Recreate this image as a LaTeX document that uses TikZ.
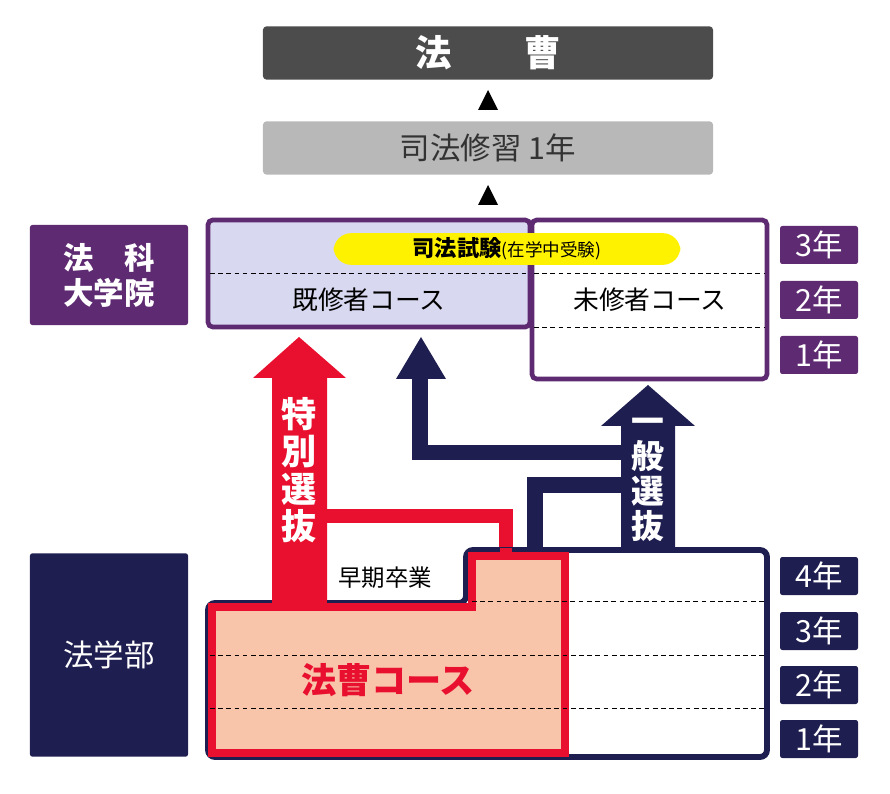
\documentclass[tikz,border=0pt]{standalone}
\usepackage{fontspec}
\setmainfont{Noto Sans CJK JP}
\usepackage{tikz}
\usetikzlibrary{positioning}
\definecolor{navy}{HTML}{1E1E50}
\definecolor{lawpurple}{HTML}{5E2A72}
\definecolor{lawred}{HTML}{E8102E}
\definecolor{salmon}{HTML}{F8C4AA}
\definecolor{lavender}{HTML}{D8D8F0}
\begin{document}
\begin{tikzpicture}[x=0.03cm,y=-0.03cm,
    label box/.style={rounded corners=2pt,text=white,font=\fontsize{26}{28}\selectfont,align=center},
    year/.style={label box,minimum width=2.34cm,minimum height=1.14cm},
    stage/.style={rounded corners=3pt,minimum width=13.5cm,minimum height=1.6cm},
    dashline/.style={dashed,line width=0.8pt,dash pattern=on 4pt off 3pt}
  ]
  \useasboundingbox (0,0) rectangle (890,794);

  % top stages
  \node[stage,fill=black!70,text=white,font=\fontsize{31}{33}\selectfont\bfseries] (Hoso) at (488,53) {法\hspace{2em}曹};
  \node[stage,fill=black!28,text=black!80,font=\fontsize{26}{28}\selectfont] (Shushu) at (488,148) {司法修習 1年};
  \fill (488,90) -- (478,110) -- (498,110) -- cycle;
  \fill (488,185) -- (478,205) -- (498,205) -- cycle;

  % law school
  \draw[line width=4pt,lawpurple,rounded corners=4pt] (532,220) rectangle (767,379);
  \draw[dashline] (534,273) -- (765,273);
  \draw[dashline] (534,327) -- (765,327);
  \draw[line width=4pt,lawpurple,fill=lavender,rounded corners=4pt] (208,220) rectangle (530,327);
  \draw[dashline] (210,273) -- (528,273);
  \node[fill=yellow,rounded corners=15pt,minimum width=10.4cm,minimum height=0.95cm] (Shiken) at (507,249) {};
  \node[font=\fontsize{19}{21}\selectfont\bfseries] at (507,249) {司法試験{\fontsize{15}{17}\selectfont\mdseries (在学中受験)}};
  \node[font=\fontsize{22}{24}\selectfont] (Kishu) at (369,300) {既修者コース};
  \node[font=\fontsize{22}{24}\selectfont] (Mishu) at (650,300) {未修者コース};

  \node[label box,fill=lawpurple,minimum width=4.74cm,minimum height=3cm,font=\fontsize{26}{30}\selectfont\bfseries] (Houka) at (109,275) {法\hspace{1em}科\\大学院};
  \node[year,fill=lawpurple] (LS3) at (819,245) {3年};
  \node[year,fill=lawpurple] (LS2) at (819,300) {2年};
  \node[year,fill=lawpurple] (LS1) at (819,355) {1年};

  % faculty
  \node[label box,fill=navy,minimum width=4.74cm,minimum height=6.1cm] (Gakubu) at (109,655) {法学部};
  \node[year,fill=navy] (F4) at (819,576) {4年};
  \node[year,fill=navy] (F3) at (819,631) {3年};
  \node[year,fill=navy] (F2) at (819,685) {2年};
  \node[year,fill=navy] (F1) at (819,739) {1年};

  % routes
  \draw[navy,line width=13pt,line join=miter] (535,552) -- (535,485) -- (630,485);
  \draw[navy,line width=13pt,line join=miter] (648,452.5) -- (420,452.5) -- (420,376);
  \fill[navy] (421,337) -- (396,379) -- (446,379) -- cycle;
  \fill[navy] (621,552) -- (621,426) -- (601,426) -- (648,385) -- (695,426) -- (675,426) -- (675,552) -- cycle;
  \node[text=white,font=\fontsize{28}{30}\selectfont\bfseries,align=center] (Ippan) at (648,480) {一\\般\\選\\抜};

  \draw[lawred,line width=12pt,line join=miter] (506,556) -- (506,516) -- (320,516);
  \fill[lawred] (272,606) -- (272,378) -- (253,378) -- (299,337) -- (346,378) -- (327,378) -- (327,606) -- cycle;
  \node[text=white,font=\fontsize{30}{32}\selectfont\bfseries,align=center] (Tokubetsu) at (299,470) {特\\別\\選\\抜};

  \draw[navy,line width=5pt,rounded corners=6pt,fill=white] (208,603) -- (466,603) -- (466,550) -- (767,550) -- (767,757) -- (208,757) -- cycle;
  \fill[navy] (530,548) rectangle (541,553);
  \fill[navy] (621,548) rectangle (675,553);
  \draw[lawred,line width=7pt,fill=salmon] (212,607) -- (472,607) -- (472,556) -- (565,556) -- (565,753) -- (212,753) -- cycle;
  \fill[lawred] (272,600) rectangle (327,610);
  \fill[lawred] (500,548) rectangle (512,556);
  \draw[dashline] (472,601) -- (765,601);
  \draw[dashline] (210,655) -- (765,655);
  \draw[dashline] (210,708) -- (765,708);
  \node[font=\fontsize{20}{22}\selectfont] (Soki) at (385,578) {早期卒業};
  \node[text=lawred,font=\fontsize{30}{32}\selectfont\bfseries] (Course) at (388,680) {法曹コース};
\end{tikzpicture}
\end{document}
